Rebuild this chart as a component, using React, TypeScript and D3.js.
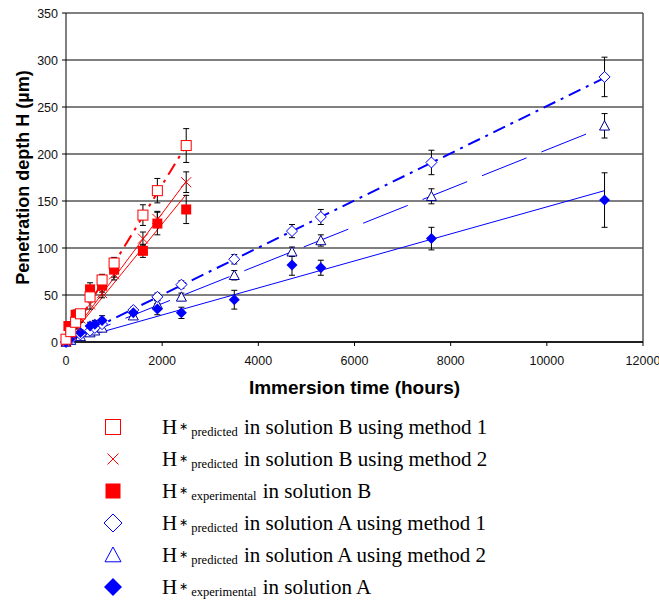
import React from "react";
import * as d3 from "d3";

// ---- data ----
const xTicks = [0, 2000, 4000, 6000, 8000, 10000, 12000];
const yTicks = [0, 50, 100, 150, 200, 250, 300, 350];

// Solution A (blue)
const tA = [0, 100, 300, 500, 600, 750, 1400, 1900, 2400, 3500, 4700, 5300, 7600, 11200];
const hAexp = [0, 4, 10, 17, 19, 23, 31, 35, 31, 45, 82, 79, 110, 151];
const eAexp = [0, 2, 3, 4, 4, 5, 5, 6, 6, 10, 11, 8, 12, 29];
const hAp1 = [0, 3, 8, 12, 15, 19, 34, 48, 61, 88, 118, 133, 191, 282];
const eAp1 = [0, 1, 2, 2, 3, 3, 3, 4, 4, 5, 7, 8, 13, 21];
const hAp2 = [0, 2, 6, 10, 12, 15, 28, 40, 48, 71, 96, 108, 155, 230];
const eAp2 = [0, 1, 1, 2, 2, 3, 3, 4, 4, 5, 5, 6, 8, 13];

// Solution B (red)
const tB = [0, 100, 200, 300, 500, 750, 1000, 1600, 1900, 2500];
const hBp1 = [3, 11, 21, 30, 48, 66, 84, 135, 161, 209];
const eBp1 = [2, 2, 3, 4, 5, 6, 6, 11, 13, 18];
const hBp2 = [0, 8, 17, 25, 40, 52, 72, 110, 131, 170];
const eBp2 = [1, 2, 3, 4, 5, 5, 6, 7, 8, 11];
const tBexp = [50, 200, 500, 750, 1000, 1600, 1900, 2500];
const hBexp = [17, 29, 56, 60, 77, 97, 126, 141];
const eBexp = [3, 5, 7, 7, 8, 7, 12, 15];

// trend lines: [tEnd, hEnd], starting at origin
const lineAexp = [11200, 161];
const lineAp1 = [11200, 281];
const lineAp2 = [11200, 229];
const lineBp1 = [2500, 209];
const lineBp2 = [2500, 171];
const lineBexp = [2500, 157];

const legendLabels = [
  { sub: "predicted", rest: " in solution B using method 1" },
  { sub: "predicted", rest: " in solution B using method 2" },
  { sub: "experimental", rest: " in solution B" },
  { sub: "predicted", rest: " in solution A using method 1" },
  { sub: "predicted", rest: " in solution A using method 2" },
  { sub: "experimental", rest: " in solution A" },
];

const RED = "#ff0000";
const BLUE = "#0000ff";
const NAVY = "#000099";

// ---- layout ----
const W = 659, H = 601;
const L = 66, R = 643, T = 13, B = 342;
const x = d3.scaleLinear().domain([0, 12000]).range([L, R]);
const y = d3.scaleLinear().domain([0, 350]).range([B, T]);

type Shape = "osq" | "x" | "fsq" | "odia" | "tri" | "fdia";

function Marker({ shape, cx, cy, s, color }: { shape: Shape; cx: number; cy: number; s: number; color: string }) {
  const h = s / 2;
  switch (shape) {
    case "osq":
      return <rect x={cx - h} y={cy - h} width={s} height={s} fill="white" stroke={color} strokeWidth={1} />;
    case "fsq":
      return <rect x={cx - h} y={cy - h} width={s} height={s} fill={color} />;
    case "x":
      return (
        <g stroke={color} strokeWidth={1}>
          <line x1={cx - h} y1={cy - h} x2={cx + h} y2={cy + h} />
          <line x1={cx - h} y1={cy + h} x2={cx + h} y2={cy - h} />
        </g>
      );
    case "odia":
      return <path d={`M${cx},${cy - h}L${cx + h},${cy}L${cx},${cy + h}L${cx - h},${cy}Z`} fill="white" stroke={color} strokeWidth={1} />;
    case "fdia":
      return <path d={`M${cx},${cy - h}L${cx + h},${cy}L${cx},${cy + h}L${cx - h},${cy}Z`} fill={color} />;
    case "tri":
      return <path d={`M${cx},${cy - h}L${cx + h},${cy + h * 0.85}L${cx - h},${cy + h * 0.85}Z`} fill="white" stroke={color} strokeWidth={1} />;
  }
  return null;
}

function ErrorBars({ ts, hs, es }: { ts: number[]; hs: number[]; es: number[] }) {
  return (
    <g stroke="#000" strokeWidth={1}>
      {ts.map((t, i) =>
        es[i] > 0 ? (
          <g key={i}>
            <line x1={x(t)} x2={x(t)} y1={y(hs[i] + es[i])} y2={y(hs[i] - es[i])} />
            <line x1={x(t) - 3} x2={x(t) + 3} y1={y(hs[i] + es[i])} y2={y(hs[i] + es[i])} />
            <line x1={x(t) - 3} x2={x(t) + 3} y1={y(hs[i] - es[i])} y2={y(hs[i] - es[i])} />
          </g>
        ) : null
      )}
    </g>
  );
}

function Trend({ end, color, dash, width }: { end: number[]; color: string; dash?: string; width: number }) {
  const line = d3.line<number[]>().x((d) => x(d[0])).y((d) => y(d[1]));
  return <path d={line([[0, 0], end]) || ""} fill="none" stroke={color} strokeWidth={width} strokeDasharray={dash} />;
}

function Series({ ts, hs, shape, color, s }: { ts: number[]; hs: number[]; shape: Shape; color: string; s: number }) {
  return (
    <g>
      {ts.map((t, i) => (
        <Marker key={i} shape={shape} cx={x(t)} cy={y(hs[i])} s={s} color={color} />
      ))}
    </g>
  );
}

export default function App() {
  const legendShapes: { shape: Shape; color: string; s: number }[] = [
    { shape: "osq", color: RED, s: 15 },
    { shape: "x", color: RED, s: 11 },
    { shape: "fsq", color: RED, s: 15 },
    { shape: "odia", color: BLUE, s: 18 },
    { shape: "tri", color: BLUE, s: 16 },
    { shape: "fdia", color: BLUE, s: 18 },
  ];
  return (
    <svg width={W} height={H} style={{ position: "absolute", left: 0, top: 0, background: "#fff" }}>
      {/* grid */}
      {yTicks.map((v) => (
        <line key={v} x1={L} x2={R} y1={y(v)} y2={y(v)} stroke="#000" strokeWidth={1} />
      ))}
      <line x1={R} x2={R} y1={T} y2={B} stroke="#555" strokeWidth={1.5} />
      <line x1={L} x2={L} y1={T} y2={B} stroke="#000" strokeWidth={1} />
      <line x1={L} x2={R} y1={B} y2={B} stroke="#000" strokeWidth={1.5} />
      {yTicks.map((v) => (
        <g key={v}>
          <line x1={L - 4} x2={L} y1={y(v)} y2={y(v)} stroke="#000" />
          <text x={L - 8} y={y(v) + 4.5} textAnchor="end" fontFamily="Liberation Sans, Arial" fontSize={12.5} fill="#111">
            {v}
          </text>
        </g>
      ))}
      {xTicks.map((v) => (
        <g key={v}>
          <line x1={x(v)} x2={x(v)} y1={B} y2={B + 4} stroke="#000" />
          <text x={x(v)} y={B + 23} textAnchor="middle" fontFamily="Liberation Sans, Arial" fontSize={12.5} fill="#111">
            {v}
          </text>
        </g>
      ))}
      <text x={(L + R) / 2} y={394} textAnchor="middle" fontFamily="Liberation Sans, Arial" fontWeight="bold" fontSize={19}>
        Immersion time (hours)
      </text>
      <text transform={`translate(29,${(T + B) / 2}) rotate(-90)`} textAnchor="middle" fontFamily="Liberation Sans, Arial" fontWeight="bold" fontSize={18}>
        Penetration depth H (µm)
      </text>

      {/* trend lines */}
      <Trend end={lineAexp} color={BLUE} width={1} />
      <Trend end={lineAp2} color={BLUE} width={1} dash="48,16" />
      <Trend end={lineAp1} color={BLUE} width={2} dash="13,6,3,6" />
      <Trend end={lineBexp} color={RED} width={1} />
      <Trend end={lineBp2} color={RED} width={1} />
      <Trend end={lineBp1} color={RED} width={2} dash="13,6,3,6" />

      {/* error bars */}
      <ErrorBars ts={tA} hs={hAexp} es={eAexp} />
      <ErrorBars ts={tA} hs={hAp1} es={eAp1} />
      <ErrorBars ts={tA} hs={hAp2} es={eAp2} />
      <ErrorBars ts={tB} hs={hBp1} es={eBp1} />
      <ErrorBars ts={tB} hs={hBp2} es={eBp2} />
      <ErrorBars ts={tBexp} hs={hBexp} es={eBexp} />

      {/* markers */}
      <Series ts={tA} hs={hAp2} shape="tri" color={NAVY} s={10} />
      <Series ts={tA} hs={hAp1} shape="odia" color={BLUE} s={11} />
      <Series ts={tA} hs={hAexp} shape="fdia" color={BLUE} s={11} />
      <Series ts={tBexp} hs={hBexp} shape="fsq" color={RED} s={10} />
      <Series ts={tB} hs={hBp2} shape="x" color={RED} s={10} />
      <Series ts={tB} hs={hBp1} shape="osq" color={RED} s={10} />

      {/* legend */}
      {legendLabels.map((lb, i) => {
        const cy = 427 + i * 32;
        const sh = legendShapes[i];
        return (
          <g key={i}>
            <Marker shape={sh.shape} cx={113} cy={cy} s={sh.s} color={sh.color} />
            <text x={162} y={cy + 7} fontFamily="Liberation Serif, Times New Roman" fontSize={21} fill="#000">
              H
              <tspan fontSize={11} dy={-4} dx={2}>∗</tspan>
              <tspan fontSize={12.5} dy={6} dx={3}>{lb.sub}</tspan>
              <tspan fontSize={21} dy={-2} dx={1}>{lb.rest}</tspan>
            </text>
          </g>
        );
      })}
    </svg>
  );
}
